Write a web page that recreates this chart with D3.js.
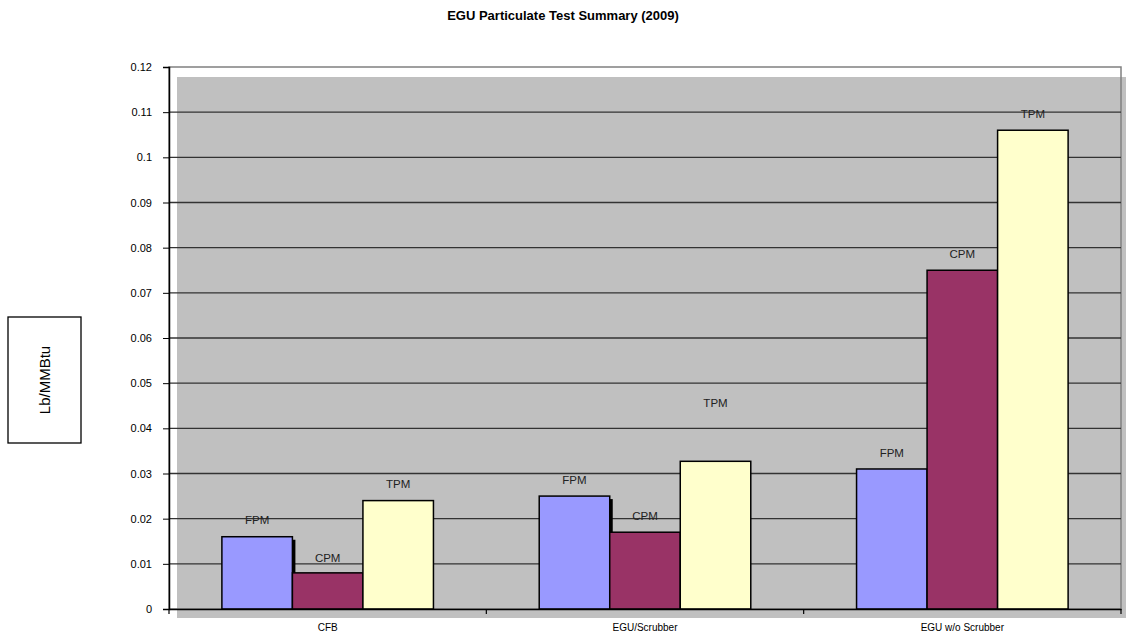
<!DOCTYPE html>
<html lang="en">
<head>
<meta charset="UTF-8">
<title>EGU Particulate Test Summary (2009)</title>
<script src="https://cdnjs.cloudflare.com/ajax/libs/d3/7.8.5/d3.min.js"></script>
<style>
body{ margin:0; background:#fff; }
svg text{ font-family:"Liberation Sans", Arial, sans-serif; fill:#000; }
.tick text{ font-size:11px; }
.bar-label{ font-size:11.5px; fill:#222; }
</style>
</head>
<body>
<svg id="chart" width="1126" height="636"></svg>
<script>
var categories = ['CFB', 'EGU/Scrubber', 'EGU w/o Scrubber'];
var series = ['FPM', 'CPM', 'TPM'];
var fpm = [0.016, 0.025, 0.031];
var cpm = [0.008, 0.017, 0.075];
var tpm = [0.024, 0.0327, 0.106];
// where excel put the data labels (value units)
var fpmLabelAt = [0.0198, 0.0286, 0.0346];
var cpmLabelAt = [0.0114, 0.0206, 0.0787];
var tpmLabelAt = [0.0276, 0.0456, 0.1096];
var yTicks = [0, 0.01, 0.02, 0.03, 0.04, 0.05, 0.06, 0.07, 0.08, 0.09, 0.1, 0.11, 0.12];

var colors = {FPM:'#9999ff', CPM:'#993366', TPM:'#ffffcc'};
var values = {FPM:fpm, CPM:cpm, TPM:tpm};
var labelAt = {FPM:fpmLabelAt, CPM:cpmLabelAt, TPM:tpmLabelAt};

var svg = d3.select('#chart');
var plotL = 169, plotR = 1121, plotT = 67, plotB = 609;

var y = d3.scaleLinear().domain([0, 0.12]).range([plotB, plotT]);
var x0 = d3.scaleBand().domain(categories).range([plotL, plotR]).padding(0);
var x1 = d3.scaleBand().domain(series).range([0, x0.bandwidth()])
  .paddingInner(0).paddingOuter(0.75);

// title
svg.append('text')
  .attr('x', 563).attr('y', 20)
  .attr('text-anchor', 'middle')
  .style('font-size', '13px').style('font-weight', 'bold')
  .text('EGU Particulate Test Summary (2009)');

// plot background (offset like the original)
svg.append('rect')
  .attr('x', 177).attr('y', 77)
  .attr('width', 1126 - 177).attr('height', 618 - 77)
  .attr('fill', '#c0c0c0');

// plot border
svg.append('rect')
  .attr('x', plotL).attr('y', plotT)
  .attr('width', plotR - plotL).attr('height', plotB - plotT)
  .attr('fill', 'none').attr('stroke', '#808080').attr('stroke-width', 1.5);

// gridlines
svg.append('g').selectAll('line')
  .data(yTicks.filter(function(d){ return d > 0 && d < 0.12; }))
  .enter().append('line')
  .attr('x1', plotL).attr('x2', plotR)
  .attr('y1', function(d){ return y(d); })
  .attr('y2', function(d){ return y(d); })
  .attr('stroke', '#333').attr('stroke-width', 1.3);

// y axis
var yAxis = svg.append('g')
  .attr('transform', 'translate(' + plotL + ',0)')
  .call(d3.axisLeft(y).tickValues(yTicks).tickSize(6).tickPadding(11)
    .tickFormat(function(d){ return String(+d.toFixed(2)); }));
yAxis.select('.domain').attr('stroke', '#000').attr('stroke-width', 1.5);
yAxis.selectAll('.tick line').attr('stroke', '#000');

// bars
var groups = svg.append('g').selectAll('g')
  .data(categories).enter().append('g')
  .attr('transform', function(d){ return 'translate(' + x0(d) + ',0)'; });

// little black shadow on the right of the first bar
groups.append('rect')
  .attr('x', function(){ return x1('FPM') + x1.bandwidth(); })
  .attr('y', function(d, i){ return y(fpm[i]) + 3; })
  .attr('width', 3)
  .attr('height', function(d, i){ return Math.max(0, y(0) - y(fpm[i]) - 3); })
  .attr('fill', '#000');

series.forEach(function(s){
  groups.append('rect')
    .attr('x', x1(s))
    .attr('y', function(d, i){ return y(values[s][i]); })
    .attr('width', x1.bandwidth())
    .attr('height', function(d, i){ return y(0) - y(values[s][i]); })
    .attr('fill', colors[s])
    .attr('stroke', '#000').attr('stroke-width', 1.5);

  groups.append('text')
    .attr('class', 'bar-label')
    .attr('x', x1(s) + x1.bandwidth() / 2)
    .attr('y', function(d, i){ return y(labelAt[s][i]) + 4; })
    .attr('text-anchor', 'middle')
    .text(s);
});

// x axis
var xAxis = svg.append('g')
  .attr('transform', 'translate(0,' + plotB + ')')
  .call(d3.axisBottom(x0).tickSize(0).tickPadding(15));
xAxis.select('.domain').attr('stroke', '#000').attr('stroke-width', 1.5);
xAxis.selectAll('.tick text').style('font-size', '10px');
xAxis.append('g').selectAll('line')
  .data(d3.range(categories.length + 1))
  .enter().append('line')
  .attr('x1', function(i){ return plotL + i * x0.step(); })
  .attr('x2', function(i){ return plotL + i * x0.step(); })
  .attr('y1', 0).attr('y2', 5)
  .attr('stroke', '#000').attr('stroke-width', 1.2);

// y axis title box
svg.append('rect')
  .attr('x', 8).attr('y', 317).attr('width', 73).attr('height', 126)
  .attr('fill', '#fff').attr('stroke', '#000').attr('stroke-width', 1.3);
svg.append('text')
  .attr('transform', 'translate(50,380) rotate(-90)')
  .attr('text-anchor', 'middle')
  .style('font-size', '15px')
  .text('Lb/MMBtu');
</script>
</body>
</html>
